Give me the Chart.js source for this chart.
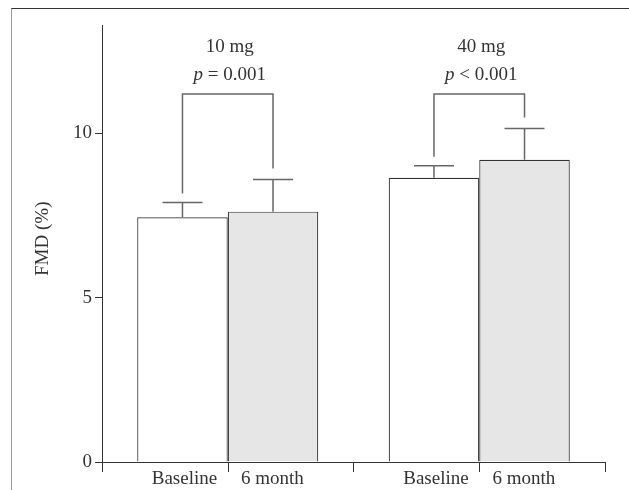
<!DOCTYPE html>
<html><head><meta charset="utf-8">
<script src="https://cdn.jsdelivr.net/npm/chart.js"></script>
<style>
html,body{margin:0;padding:0;background:#fff;}
#wrap{position:relative;width:629px;height:490px;overflow:hidden;}
#frame{position:absolute;left:11px;top:8px;width:700px;height:600px;border-top:1.5px solid #333;border-left:1.5px solid #999;box-sizing:border-box;pointer-events:none;}
canvas{position:absolute;left:0;top:0;}
</style></head><body>
<div id="wrap"><canvas id="c" width="629" height="490"></canvas><div id="frame"></div></div>
<script>
// ---- data ----
const doses = ['10 mg', '40 mg'];
const pSigns = ['=', '<'];
const pValues = ['0.001', '0.001'];
const timepoints = ['Baseline', '6 month'];
const baseline = [7.45, 8.65];
const sixMonth = [7.62, 9.2];
const baselineSD = [0.45, 0.37];
const sixMonthSD = [0.98, 0.95];
const bracketTop = [11.2, 11.2];
const yTicks = [0, 5, 10];
const yMax = 13.3;

const FONT = "'Liberation Serif', 'Times New Roman', serif";
const sdSets = [baselineSD, sixMonthSD];

const annot = {
  id: 'annot',
  afterDatasetsDraw(chart) {
    const ctx = chart.ctx;
    const ys = chart.scales.y, xs = chart.scales.x;
    ctx.save();
    // error bars
    ctx.strokeStyle = '#666';
    ctx.lineWidth = 1.5;
    const caps = [[], []];
    chart.data.datasets.forEach((ds, i) => {
      const meta = chart.getDatasetMeta(i);
      meta.data.forEach((bar, j) => {
        const top = ys.getPixelForValue(ds.data[j] + sdSets[i][j]);
        caps[i][j] = top;
        ctx.beginPath();
        ctx.moveTo(bar.x, bar.y);
        ctx.lineTo(bar.x, top);
        ctx.moveTo(bar.x - 20, top);
        ctx.lineTo(bar.x + 20, top);
        ctx.stroke();
      });
    });
    // brackets and labels
    const m0 = chart.getDatasetMeta(0), m1 = chart.getDatasetMeta(1);
    doses.forEach((d, j) => {
      const lx = m0.data[j].x, rx = m1.data[j].x;
      const ty = ys.getPixelForValue(bracketTop[j]);
      ctx.strokeStyle = '#666';
      ctx.lineWidth = 1.5;
      ctx.beginPath();
      ctx.moveTo(lx, caps[0][j] - 9);
      ctx.lineTo(lx, ty);
      ctx.lineTo(rx, ty);
      ctx.lineTo(rx, caps[1][j] - 11);
      ctx.stroke();
      const cx = (lx + rx) / 2 + 2;
      ctx.fillStyle = '#333';
      ctx.textBaseline = 'middle';
      ctx.textAlign = 'left';
      ctx.font = "19px " + FONT;
      const w1 = ctx.measureText(d).width;
      ctx.fillText(d, cx - w1 / 2, ty - 47);
      ctx.font = "italic 19px " + FONT;
      const pw = ctx.measureText('p').width;
      ctx.font = "19px " + FONT;
      const rest = ' ' + pSigns[j] + ' ' + pValues[j];
      const rw = ctx.measureText(rest).width;
      const sx = cx - (pw + rw) / 2;
      ctx.font = "italic 19px " + FONT;
      ctx.fillText('p', sx, ty - 19);
      ctx.font = "19px " + FONT;
      ctx.fillText(rest, sx + pw, ty - 19);
    });
    // centre tick marks on x axis
    ctx.strokeStyle = '#333';
    ctx.lineWidth = 1;
    doses.forEach((d, j) => {
      const x = Math.round(xs.getPixelForValue(j)) + 0.5;
      ctx.beginPath();
      ctx.moveTo(x, xs.top);
      ctx.lineTo(x, xs.top + 10);
      ctx.stroke();
    });
    ctx.restore();
  }
};

new Chart(document.getElementById('c'), {
  type: 'bar',
  data: {
    labels: doses,
    datasets: [
      { label: timepoints[0], data: baseline, backgroundColor: '#ffffff', borderColor: '#333', borderWidth: 1.2 },
      { label: timepoints[1], data: sixMonth, backgroundColor: '#e6e6e7', borderColor: '#333', borderWidth: 1.2 }
    ]
  },
  options: {
    responsive: false,
    animation: false,
    layout: { padding: { left: 0, right: 24, top: 25, bottom: 0 } },
    plugins: { legend: { display: false }, tooltip: { enabled: false } },
    datasets: { bar: { categoryPercentage: 0.72, barPercentage: 1.0 } },
    scales: {
      x: {
        offset: true,
        grid: { offset: true, drawOnChartArea: false, drawTicks: true, tickLength: 10, color: '#333', lineWidth: 1 },
        border: { display: true, color: '#333', width: 1 },
        ticks: { font: { family: FONT, size: 19 }, color: '#333', padding: -4, maxRotation: 0, autoSkip: false,
                 callback: () => timepoints.join('\u2003 ') },
        afterFit: s => { s.height = 28; }
      },
      y: {
        min: 0, max: yMax,
        afterBuildTicks: s => { s.ticks = yTicks.map(v => ({ value: v })); },
        grid: { drawOnChartArea: false, drawTicks: true, tickLength: 7, color: '#333' },
        border: { display: true, color: '#333' },
        ticks: { font: { family: FONT, size: 19 }, color: '#333', padding: 3 },
        title: { display: true, text: '\u2002FMD (%)', font: { family: FONT, size: 19 }, color: '#333', padding: { top: 32, bottom: 0 } },
        afterFit: s => { s.width = 102; }
      }
    }
  },
  plugins: [annot]
});
</script>
</body></html>
